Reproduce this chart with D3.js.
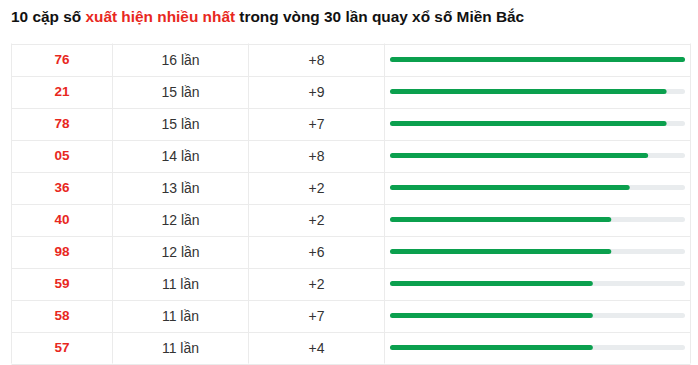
<!DOCTYPE html>
<html>
<head>
<meta charset="utf-8">
<script src="https://cdn.jsdelivr.net/npm/d3@7"></script>
<style>
  body { margin: 0; background: #fff; }
  svg text { font-family: Arial, "Liberation Sans", sans-serif; }
</style>
</head>
<body>
<svg id="chart"></svg>
<script>
var pairs = ['76', '21', '78', '05', '36', '40', '98', '59', '58', '57'];
var counts = [16, 15, 15, 14, 13, 12, 12, 11, 11, 11];
var changes = ['+8', '+9', '+7', '+8', '+2', '+2', '+6', '+2', '+7', '+4'];
var unit = 'lần';
var maxCount = 16;

var width = 698, height = 365;
var tableLeft = 11.5, tableRight = 690.5, tableTop = 43.5, tableBottom = 363.5;
var colEdges = [tableLeft, 112.5, 248.5, 384.5, tableRight];

var svg = d3.select('#chart')
    .attr('width', width)
    .attr('height', height);

// title
var title = svg.append('text')
    .attr('x', 11)
    .attr('y', 22)
    .attr('font-size', '15.4px')
    .attr('font-weight', 'bold')
    .attr('fill', '#111');
title.append('tspan').text('10 cặp số ');
title.append('tspan').attr('fill', '#e8281e').text('xuất hiện nhiều nhất');
title.append('tspan').text(' trong vòng 30 lần quay xổ số Miền Bắc');

var y = d3.scaleBand()
    .domain(d3.range(pairs.length))
    .range([tableTop, tableBottom]);

var x = d3.scaleLinear()
    .domain([0, maxCount])
    .range([390, 685]);

// grid lines
var grid = svg.append('g')
    .attr('stroke', '#ebebeb')
    .attr('stroke-width', 1)
    .attr('fill', 'none');

grid.selectAll('line.h')
    .data(d3.range(pairs.length + 1))
    .enter().append('line')
    .attr('class', 'h')
    .attr('x1', tableLeft)
    .attr('x2', tableRight)
    .attr('y1', function(d){ return Math.round(tableTop + d * y.step()) + 0.5; })
    .attr('y2', function(d){ return Math.round(tableTop + d * y.step()) + 0.5; });

grid.selectAll('line.v')
    .data(colEdges)
    .enter().append('line')
    .attr('class', 'v')
    .attr('x1', function(d){ return d; })
    .attr('x2', function(d){ return d; })
    .attr('y1', tableTop)
    .attr('y2', tableBottom);

var rows = svg.selectAll('g.row')
    .data(d3.range(pairs.length))
    .enter().append('g')
    .attr('class', 'row')
    .attr('transform', function(i){ return 'translate(0,' + (y(i) + y.bandwidth() / 2) + ')'; });

rows.append('text')
    .attr('x', (colEdges[0] + colEdges[1]) / 2)
    .attr('dy', '0.36em')
    .attr('text-anchor', 'middle')
    .attr('font-size', '13.5px')
    .attr('font-weight', 'bold')
    .attr('fill', '#e8281e')
    .text(function(i){ return pairs[i]; });

rows.append('text')
    .attr('x', (colEdges[1] + colEdges[2]) / 2)
    .attr('dy', '0.36em')
    .attr('text-anchor', 'middle')
    .attr('font-size', '14px')
    .attr('fill', '#333')
    .text(function(i){ return counts[i] + ' ' + unit; });

rows.append('text')
    .attr('x', (colEdges[2] + colEdges[3]) / 2)
    .attr('dy', '0.36em')
    .attr('text-anchor', 'middle')
    .attr('font-size', '14px')
    .attr('fill', '#333')
    .text(function(i){ return changes[i]; });

// progress track and bar
rows.append('rect')
    .attr('x', x(0))
    .attr('y', -2.5)
    .attr('width', x(maxCount) - x(0))
    .attr('height', 5)
    .attr('rx', 2.5)
    .attr('fill', '#e9ecee');

rows.append('rect')
    .attr('x', x(0))
    .attr('y', -2.5)
    .attr('width', function(i){ return x(counts[i]) - x(0); })
    .attr('height', 5)
    .attr('rx', 2.5)
    .attr('fill', '#0ba04e');
</script>
</body>
</html>
